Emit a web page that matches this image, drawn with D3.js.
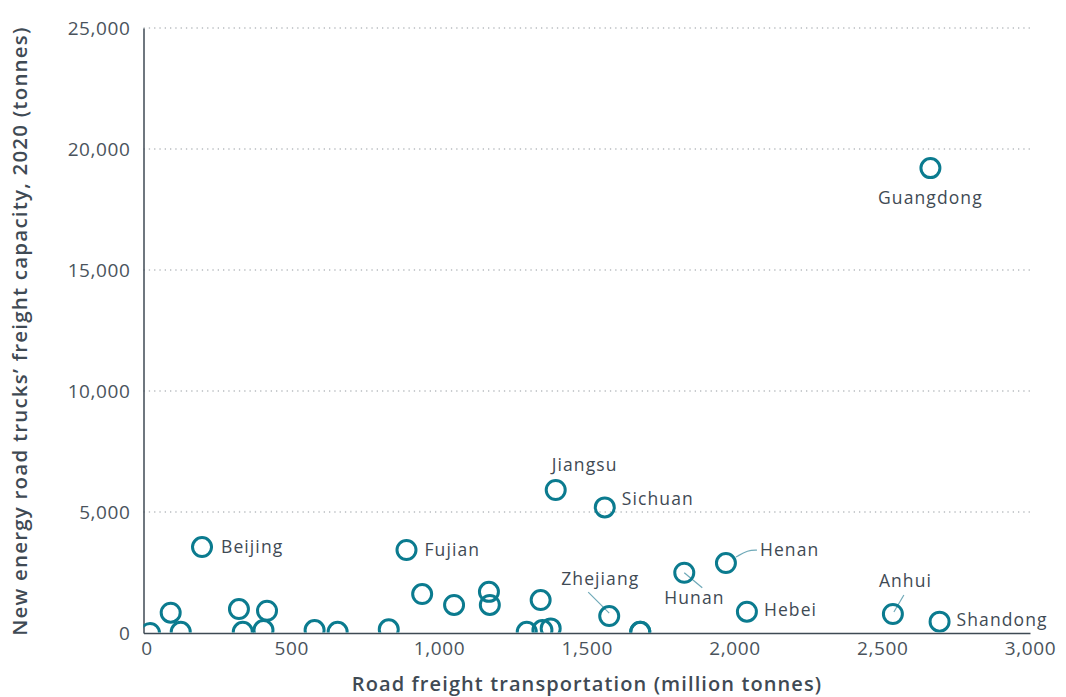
<!DOCTYPE html>
<html><head><meta charset="utf-8">
<script src="https://cdn.jsdelivr.net/npm/d3@7"></script>
<style>body{margin:0;background:#fff}</style>
</head><body>
<svg id="c" width="1066" height="697"></svg>
<script>
const provinces = ["","","","","","","","","","","","","","","","","","","","Zhejiang","","Hunan","Henan","Hebei","Anhui","Shandong","Guangdong","Jiangsu","Sichuan","Beijing","Fujian"];
const freight = [22,92,126,323,336,418,406,579,657,830,943,1051,1169,1172,1344,1297,1350,1378,1681,1576,1681,1830,1971,2042,2536,2694,2663,1395,1561,198,890];
const capacity = [0,840,50,990,50,920,120,120,50,150,1610,1160,1700,1160,1360,50,120,190,50,700,50,2490,2890,880,785,470,19210,5910,5190,3550,3430];
const xTicks = [0,500,1000,1500,2000,2500,3000];
const yTicks = [0,5000,10000,15000,20000,25000];
const xTitle = "Road freight transportation (million tonnes)";
const yTitle = "New energy road trucks\u2019 freight capacity, 2020 (tonnes)";

const svg = d3.select("#c");
const m = {l:143.5, r:1030, t:28, b:633};
const x = d3.scaleLinear().domain([0,3000]).range([m.l,m.r]);
const y = d3.scaleLinear().domain([0,25000]).range([m.b,m.t]);
const fmt = d3.format(",");
const textCol = "#3f4a54";
const teal = "#0b7b8f";
const FF = "'Open Sans', sans-serif";

// grid
svg.append("g").selectAll("line").data(yTicks.filter(d=>d>0)).join("line")
  .attr("x1",m.l).attr("x2",m.r).attr("y1",d=>y(d)).attr("y2",d=>y(d))
  .attr("stroke","#b8bcc0").attr("stroke-width",1.3).attr("stroke-dasharray","1.3,4");

// y axis
const ya = svg.append("g").attr("transform",`translate(${m.l},0)`)
  .call(d3.axisLeft(y).tickValues(yTicks).tickFormat(fmt).tickSize(0).tickPadding(13));
ya.select(".domain").attr("stroke","#3f4a54").attr("stroke-width",1.5);
ya.selectAll("text").attr("font-family",FF).attr("font-size",19).attr("font-weight",400).attr("fill","#4a535c").attr("letter-spacing",0.6);

// x axis
const xa = svg.append("g").attr("transform",`translate(0,${m.b})`)
  .call(d3.axisBottom(x).tickValues(xTicks).tickFormat(fmt).tickSize(0).tickPadding(9));
xa.select(".domain").attr("stroke","#3f4a54").attr("stroke-width",1.5);
xa.selectAll("text").attr("font-family",FF).attr("font-size",19).attr("font-weight",400).attr("fill","#4a535c").attr("letter-spacing",0.6);
xa.selectAll(".tick text").filter(d=>d===0).attr("dx",3);

// titles
svg.append("text").attr("x",587).attr("y",691).attr("text-anchor","middle")
  .attr("font-family",FF).attr("font-size",20).attr("font-weight",600).attr("fill",textCol).attr("letter-spacing",1.1).text(xTitle);
svg.append("text").attr("transform",`translate(27,331) rotate(-90)`).attr("text-anchor","middle")
  .attr("font-family",FF).attr("font-size",20.5).attr("font-weight",600).attr("fill",textCol).attr("letter-spacing",1.2).text(yTitle);

// clip
svg.append("clipPath").attr("id","pc").append("rect").attr("x",m.l).attr("y",0).attr("width",m.r-m.l+20).attr("height",m.b-0.5);

const pts = provinces.map((p,i)=>({name:p,x:freight[i],y:capacity[i]}));

// label placement (pixel offsets from point, anchor, leader)
const lab = {
  Guangdong:{dx:0,dy:36,a:"middle"},
  Jiangsu:{dx:-4,dy:-19,a:"start"},
  Sichuan:{dx:17,dy:-2,a:"start"},
  Beijing:{dx:19,dy:6,a:"start"},
  Fujian:{dx:18,dy:6,a:"start"},
  Henan:{dx:34,dy:-7,a:"start",leader:[[10,-6],[22,-13],[31,-13]]},
  Hunan:{dx:-20,dy:31,a:"start",leader:[[0,0],[18,15]]},
  Zhejiang:{dx:-48,dy:-31,a:"start",leader:[[-21,-24],[0,-3]]},
  Hebei:{dx:17,dy:4,a:"start"},
  Anhui:{dx:-14,dy:-27,a:"start",leader:[[11,-19],[1,-2]]},
  Shandong:{dx:17,dy:4,a:"start"}
};

// leaders
pts.filter(d=>lab[d.name] && lab[d.name].leader).forEach(d=>{
  const L = lab[d.name].leader.map(([a,b])=>[x(d.x)+a,y(d.y)+b]);
  svg.append("path").attr("d",d3.line().curve(d3.curveBasis)(L)).attr("fill","none")
    .attr("stroke","#6fa9b8").attr("stroke-width",1.2);
});

svg.append("g").attr("clip-path","url(#pc)").selectAll("circle").data(pts).join("circle")
  .attr("cx",d=>x(d.x)).attr("cy",d=>y(d.y)).attr("r",9.5)
  .attr("fill","none").attr("stroke",teal).attr("stroke-width",3);

svg.append("g").selectAll("text").data(pts.filter(d=>d.name)).join("text")
  .attr("x",d=>x(d.x)+lab[d.name].dx).attr("y",d=>y(d.y)+lab[d.name].dy)
  .attr("text-anchor",d=>lab[d.name].a)
  .attr("font-family",FF).attr("font-size",17.5).attr("font-weight",500)
  .attr("letter-spacing",1.1)
  .attr("fill",textCol).text(d=>d.name);
</script>
</body></html>
